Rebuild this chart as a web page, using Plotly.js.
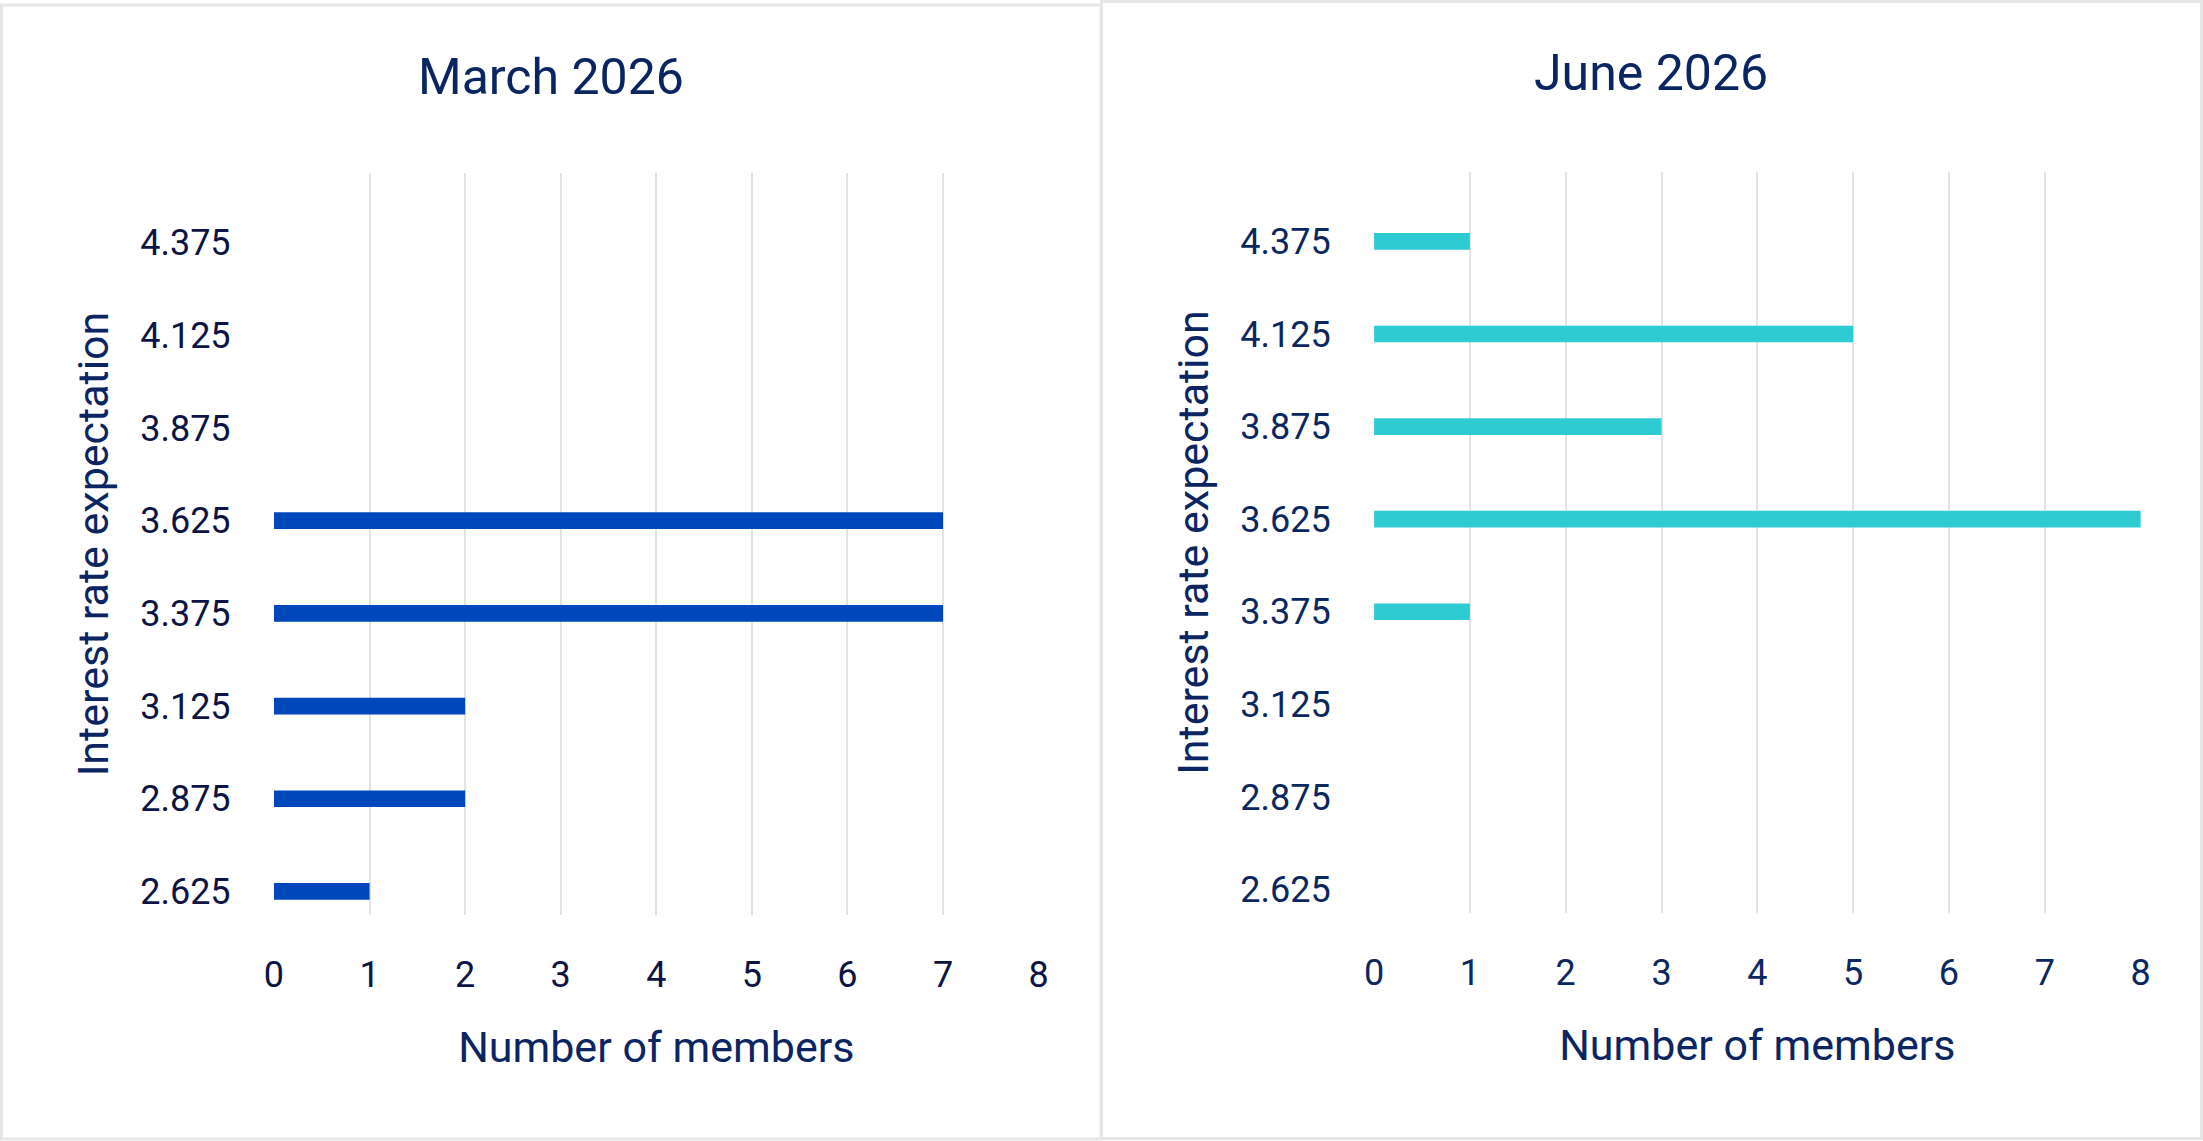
<!DOCTYPE html>
<html>
<head>
<meta charset="utf-8">
<script src="https://cdn.plot.ly/plotly-3.0.1.min.js"></script>
<style>
  html, body { margin: 0; padding: 0; background: #ffffff; }
  #chart { width: 2203px; height: 1141px; }
</style>
</head>
<body>
<div id="chart"></div>
<script>
// ---- Data ----
const rateCategories = ['2.625', '2.875', '3.125', '3.375', '3.625', '3.875', '4.125', '4.375'];
const marchMembers = [1, 2, 2, 7, 7, 0, 0, 0];
const juneMembers  = [0, 0, 0, 1, 8, 3, 5, 1];
const memberTicks = [0, 1, 2, 3, 4, 5, 6, 7, 8];
const panelTitles = ['March 2026', 'June 2026'];
const xAxisTitle = 'Number of members';
const yAxisTitle = 'Interest rate expectation';

// ---- Geometry helpers (pixel -> paper fraction) ----
const W = 2203, H = 1141;
const fx = px => px / W;
const fy = py => 1 - py / H;

const FONT = 'Roboto, "Liberation Sans", sans-serif';
const TITLE_COLOR = '#0b2562';
const TICK_COLOR_L = '#0c1445';
const TICK_COLOR_R = '#0b2760';
const GRID = '#e3e3e3';
const BORDER = '#e6e6e6';

function xAxis(domain, tickColor, anchor) {
  return {
    domain: domain,
    anchor: anchor,
    range: [-0.004, 8.004],
    tickmode: 'array',
    tickvals: memberTicks,
    ticktext: memberTicks.map(String),
    showgrid: true,
    gridcolor: GRID,
    gridwidth: 2,
    zeroline: false,
    showline: false,
    ticks: '',
    ticklabelstandoff: 35,
    tickfont: { family: FONT, size: 36, color: tickColor },
    title: { text: xAxisTitle, font: { family: FONT, size: 43, color: TITLE_COLOR }, standoff: 36 },
    automargin: false,
    fixedrange: true
  };
}
function yAxis(domain, tickColor, anchor) {
  return {
    domain: domain,
    anchor: anchor,
    type: 'category',
    categoryorder: 'array',
    categoryarray: rateCategories,
    range: [-0.254, 7.75],
    showgrid: false,
    zeroline: false,
    showline: false,
    ticks: '',
    ticklabelstandoff: 42,
    tickfont: { family: FONT, size: 36, color: tickColor },
    title: { text: yAxisTitle, font: { family: FONT, size: 43, color: TITLE_COLOR }, standoff: 18 },
    automargin: false,
    fixedrange: true
  };
}

const traces = [
  {
    type: 'bar', orientation: 'h',
    x: marchMembers, y: rateCategories,
    xaxis: 'x', yaxis: 'y',
    width: 0.18,
    marker: { color: '#0047bb', line: { width: 0 } },
    hoverinfo: 'x+y', showlegend: false
  },
  {
    type: 'bar', orientation: 'h',
    x: juneMembers, y: rateCategories,
    xaxis: 'x2', yaxis: 'y2',
    width: 0.18,
    marker: { color: '#2ecbd3', line: { width: 0 } },
    hoverinfo: 'x+y', showlegend: false
  }
];

const layout = {
  width: W, height: H,
  margin: { l: 0, r: 0, t: 0, b: 0 },
  paper_bgcolor: '#ffffff',
  plot_bgcolor: '#ffffff',
  showlegend: false,
  xaxis:  xAxis([fx(273.6), fx(1039)], TICK_COLOR_L, 'y'),
  yaxis:  yAxis([fy(915), fy(173)], TICK_COLOR_L, 'x'),
  xaxis2: xAxis([fx(1373.7), fx(2141)], TICK_COLOR_R, 'y2'),
  yaxis2: yAxis([fy(913), fy(172)], TICK_COLOR_R, 'x2'),
  annotations: [
    { text: panelTitles[0], xref: 'paper', yref: 'paper', x: fx(551), y: fy(77),
      xanchor: 'center', yanchor: 'middle', showarrow: false,
      font: { family: FONT, size: 50, color: TITLE_COLOR } },
    { text: panelTitles[1], xref: 'paper', yref: 'paper', x: fx(1651), y: fy(73),
      xanchor: 'center', yanchor: 'middle', showarrow: false,
      font: { family: FONT, size: 50, color: TITLE_COLOR } }
  ],
  shapes: [
    { type: 'rect', xref: 'paper', yref: 'paper', x0: fx(1.5), x1: fx(1101), y0: fy(1139), y1: fy(5),
      line: { color: BORDER, width: 3 }, fillcolor: 'rgba(0,0,0,0)', layer: 'below' },
    { type: 'rect', xref: 'paper', yref: 'paper', x0: fx(1101.5), x1: fx(2201.5), y0: fy(1138.5), y1: fy(1.5),
      line: { color: BORDER, width: 3 }, fillcolor: 'rgba(0,0,0,0)', layer: 'below' }
  ]
};

Plotly.newPlot('chart', traces, layout, { displayModeBar: false, staticPlot: true });
</script>
</body>
</html>
